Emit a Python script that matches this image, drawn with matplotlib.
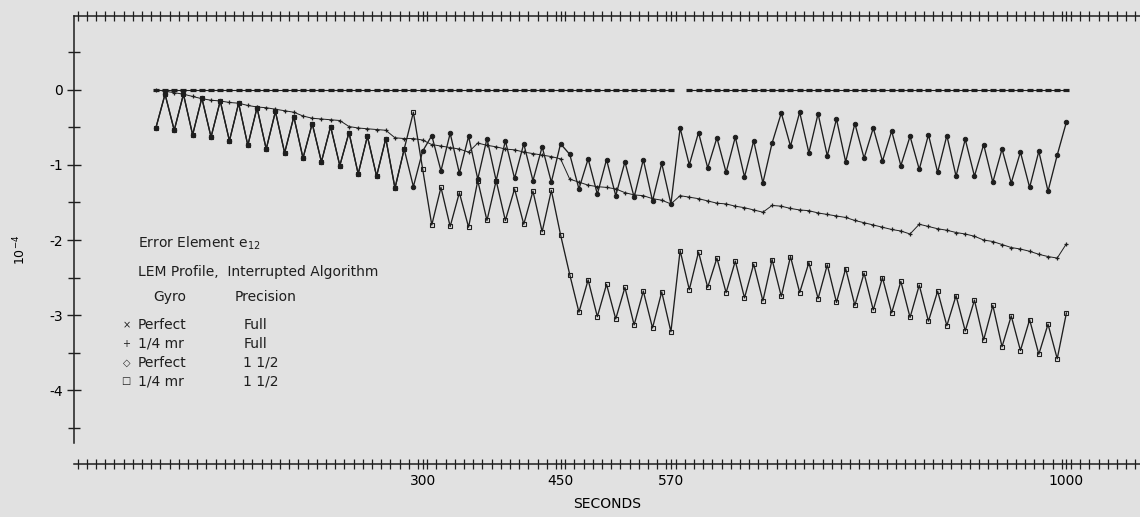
import numpy as np
import matplotlib.pyplot as plt
from matplotlib.ticker import MultipleLocator, FixedLocator

plt.rcParams['font.family'] = ['Liberation Sans Narrow', 'DejaVu Sans']
plt.rcParams['mathtext.fontset'] = 'custom'
plt.rcParams['mathtext.rm'] = 'Liberation Sans Narrow'
plt.rcParams['axes.unicode_minus'] = False

# samples every 10 s
seconds = list(range(10, 1001, 10))

nan = np.nan
# x  Perfect gyro, full precision (interrupted at 570 s)
perfect_full = [0.0] * 57 + [nan] + [0.0] * 42

# +  1/4 mr gyro, full precision
quarter_full = [
    0.00, -0.02, -0.04, -0.06, -0.09, -0.12, -0.14, -0.15, -0.17, -0.18,
    -0.21, -0.23, -0.24, -0.26, -0.28, -0.30, -0.35, -0.38, -0.39, -0.40,
    -0.41, -0.49, -0.51, -0.52, -0.53, -0.54, -0.64, -0.65, -0.65, -0.67,
    -0.73, -0.75, -0.77, -0.79, -0.83, -0.71, -0.74, -0.76, -0.79, -0.80,
    -0.83, -0.85, -0.87, -0.89, -0.92, -1.19, -1.23, -1.27, -1.29, -1.30,
    -1.32, -1.37, -1.40, -1.41, -1.45, -1.47, -1.52, -1.41, -1.43, -1.45,
    -1.48, -1.51, -1.52, -1.55, -1.57, -1.60, -1.63, -1.54, -1.55, -1.58,
    -1.60, -1.61, -1.64, -1.66, -1.68, -1.70, -1.74, -1.77, -1.80, -1.83,
    -1.86, -1.88, -1.92, -1.79, -1.82, -1.85, -1.87, -1.90, -1.92, -1.95,
    -2.00, -2.02, -2.06, -2.10, -2.12, -2.15, -2.19, -2.22, -2.24, -2.05,
]

# o  Perfect gyro, 1 1/2 precision
perfect_half = [
    -0.51, -0.06, -0.54, -0.06, -0.60, -0.11, -0.63, -0.15, -0.68, -0.18,
    -0.74, -0.24, -0.79, -0.29, -0.84, -0.36, -0.91, -0.45, -0.96, -0.49,
    -1.01, -0.57, -1.12, -0.62, -1.15, -0.65, -1.31, -0.79, -1.29, -0.82,
    -0.61, -1.08, -0.58, -1.11, -0.62, -1.19, -0.65, -1.21, -0.68, -1.18,
    -0.72, -1.21, -0.76, -1.23, -0.72, -0.86, -1.32, -0.92, -1.39, -0.93,
    -1.41, -0.96, -1.43, -0.93, -1.48, -0.98, -1.52, -0.51, -1.00, -0.57,
    -1.04, -0.64, -1.10, -0.63, -1.16, -0.68, -1.24, -0.71, -0.31, -0.75,
    -0.30, -0.84, -0.32, -0.88, -0.39, -0.96, -0.45, -0.91, -0.51, -0.95,
    -0.55, -1.01, -0.62, -1.06, -0.60, -1.10, -0.61, -1.15, -0.66, -1.15,
    -0.73, -1.23, -0.79, -1.24, -0.83, -1.30, -0.82, -1.35, -0.87, -0.43,
]

# []  1/4 mr gyro, 1 1/2 precision
quarter_half = [
    -0.51, -0.06, -0.54, -0.06, -0.60, -0.11, -0.63, -0.15, -0.68, -0.18,
    -0.74, -0.24, -0.79, -0.29, -0.84, -0.36, -0.91, -0.45, -0.96, -0.49,
    -1.01, -0.57, -1.12, -0.62, -1.15, -0.65, -1.31, -0.79, -0.30, -1.05,
    -1.80, -1.30, -1.82, -1.37, -1.83, -1.21, -1.74, -1.21, -1.74, -1.32,
    -1.79, -1.35, -1.89, -1.34, -1.93, -2.46, -2.96, -2.53, -3.02, -2.59,
    -3.05, -2.63, -3.13, -2.68, -3.17, -2.69, -3.22, -2.14, -2.66, -2.16,
    -2.63, -2.24, -2.70, -2.28, -2.77, -2.32, -2.81, -2.26, -2.75, -2.22,
    -2.70, -2.30, -2.78, -2.33, -2.83, -2.38, -2.87, -2.44, -2.93, -2.50,
    -2.97, -2.55, -3.03, -2.60, -3.08, -2.68, -3.14, -2.74, -3.21, -2.80,
    -3.33, -2.87, -3.42, -3.01, -3.47, -3.06, -3.52, -3.12, -3.58, -2.97,
]

tick_secs = [300, 450, 570, 1000]
tick_labels = ["300", "450", "570", "1000"]
y_ticks = [0, -1, -2, -3, -4]

bg = '#e1e1e1'
ink = '#1e1e1e'

fig = plt.figure(figsize=(11.4, 5.17), dpi=100, facecolor=bg)
ax = fig.add_axes([0.0649, 0.1025, 0.9351, 0.8665])
ax.set_facecolor(bg)

ax.plot(seconds, perfect_full, color=ink, lw=0.8, marker='_', ms=5, mew=2.3)
ax.plot(seconds, quarter_full, color=ink, lw=0.7, marker='+', ms=3.5, mew=0.9)
ax.plot(seconds, perfect_half, color=ink, lw=0.95, marker='o', ms=3.2, mew=0.7)
ax.plot(seconds, quarter_half, color=ink, lw=0.95, marker='s', ms=3.0, mew=0.8,
        mfc='none')

ax.set_xlim(-79, 1080)
ax.set_ylim(-4.98, 0.98)

ax.spines['right'].set_visible(False)
for s in ['top', 'left', 'bottom']:
    ax.spines[s].set_color(ink)
    ax.spines[s].set_linewidth(1.1)
ax.spines['left'].set_bounds(-4.7, 0.98)

ax.xaxis.set_major_locator(FixedLocator(tick_secs))
ax.set_xticklabels(tick_labels)
ax.xaxis.set_minor_locator(MultipleLocator(10, offset=5))
ax.tick_params(axis='x', which='both', direction='inout', top=True,
               labeltop=False, length=7, width=0.9, color=ink, pad=4,
               labelsize=10)

ax.set_yticks(y_ticks)
ax.yaxis.set_minor_locator(MultipleLocator(1, offset=0.5))
ax.tick_params(axis='y', which='major', direction='inout', length=10,
               width=1.0, color=ink, pad=3, labelsize=10)
ax.tick_params(axis='y', which='minor', direction='inout', length=8,
               width=1.0, color=ink)

ax.set_xlabel('SECONDS', fontsize=10, labelpad=6)
ax.text(-0.051, 0.478, r'$10^{-4}$', transform=ax.transAxes, rotation=90,
        ha='center', va='center', fontsize=9)

# legend block
tx = dict(transform=ax.transAxes, va='center', fontsize=10, color=ink)
ax.text(0.060, 0.493, r'Error Element e$_{12}$', **tx)
ax.text(0.060, 0.429, 'LEM Profile,  Interrupted Algorithm', **tx)
ax.text(0.074, 0.373, 'Gyro', **tx)
ax.text(0.151, 0.373, 'Precision', **tx)
rows = [('\u00d7', 'Perfect', 'Full'), ('+', '1/4 mr', 'Full'),
        ('\u25c7', 'Perfect', '1 1/2'), ('\u25a1', '1/4 mr', '1 1/2')]
for k, (sym, gyro, prec) in enumerate(rows):
    y = 0.310 - k * 0.0418
    ax.text(0.049, y, sym, transform=ax.transAxes, va='center', ha='center',
            fontsize=7, color=ink, family=['DejaVu Sans'])
    ax.text(0.060, y, gyro, **tx)
    ax.text(0.159, y, prec, **tx)

fig.savefig('out.png', dpi=100, facecolor=bg)
